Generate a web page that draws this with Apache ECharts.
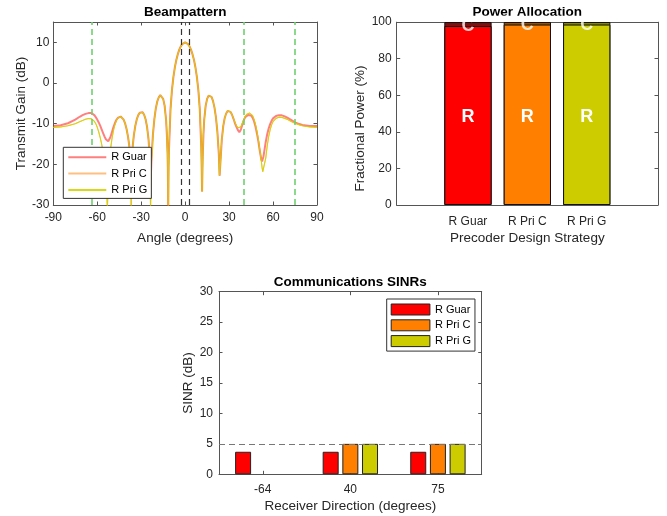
<!DOCTYPE html>
<html><head><meta charset="utf-8">
<script src="https://cdn.jsdelivr.net/npm/echarts@6/dist/echarts.min.js"></script>
<style>html,body{margin:0;padding:0;background:#fff}#c{width:667px;height:516px}</style>
</head><body><div id="c"></div>
<script>
// ---------- Beampattern ----------
const angles = [
  -90,-85,-80,-75,-72,-70,-68,-66,-65,-64,
  -63,-62,-61,-60,-59,-58,-57,-56,-55,-54,
  -53.5,-53.1,-52.5,-52,-51,-50,-49,-48,-47,-46,
  -45,-44,-43,-42,-41,-40,-39,-38,-37.5,-37,
  -36.85,-36.5,-36,-35,-34,-33,-32,-31,-30,-29,
  -28,-27,-26,-25,-24.5,-24,-23.6,-23.2,-23,-22,
  -21,-20,-19,-18,-17,-16,-15,-14,-13,-12.5,
  -12,-11.8,-11.55,-11.3,-11,-10,-9,-8,-7,-6,
  -5,-4,-3,-2,-1,0,1,2,3,4,
  5,6,7,8,9,10,11,11.3,11.55,11.8,
  12,12.5,13,14,15,16,17,18,19,20,
  21,22,23,23.5,24,25,26,27,28,29,
  30,31,32,33,34,35,36,37,38,39,
  40,41,42,43,44,45,46,47,48,49,
  50,51,52,52.5,53,53.5,54,55,56,57,
  58,59,60,62,64,65,66,68,70,72,
  75,78,80,85,90
];
const gainGuar = [
  -10.6,-10.4,-9.9,-9.0,-8.3,-7.9,-7.6,-7.4,-7.35,-7.4,
  -7.6,-7.9,-8.4,-9.0,-9.7,-10.5,-11.4,-12.3,-13.2,-13.9,
  -14.2,-14.3,-14.3,-14.1,-13.3,-12.1,-10.9,-9.9,-9.1,-8.6,
  -8.35,-8.25,-8.4,-9.0,-9.9,-11.3,-13.2,-15.8,-17.8,-20.5,
  -23,-19.5,-16.2,-12.8,-10.5,-8.9,-7.9,-7.3,-7.1,-7.2,
  -7.8,-8.9,-10.8,-13.8,-16.5,-20.5,-24,-21,-18.8,-12.7,
  -8.8,-6.2,-4.5,-3.5,-3.0,-3.1,-3.9,-5.6,-9.1,-12.5,
  -17.5,-21,-31,-20.5,-16,-6.5,-1.7,1.5,3.9,5.7,
  7.1,8.2,9.0,9.55,9.9,10.0,9.9,9.55,9.0,8.2,
  7.1,5.7,3.9,1.5,-1.7,-6.5,-16,-21,-26.7,-21.5,
  -18,-12.5,-9.1,-5.6,-3.9,-3.1,-3.0,-3.4,-4.4,-6.0,
  -8.4,-12.0,-17.5,-22.8,-20,-14,-10.6,-8.6,-7.5,-6.9,
  -6.8,-7.1,-7.8,-8.8,-9.9,-10.8,-11.6,-12.1,-11.5,-10.3,
  -9.2,-8.4,-8.0,-7.85,-7.85,-8.0,-8.5,-9.4,-10.7,-12.4,
  -14.4,-16.8,-18.8,-19.3,-19.0,-18.0,-16.8,-14.5,-12.6,-11.2,
  -10.1,-9.3,-8.7,-8.1,-7.9,-7.9,-7.95,-8.2,-8.6,-9.0,
  -9.7,-10.1,-10.3,-10.55,-10.6
];
const gainPriC = [
  -10.9,-10.8,-10.5,-10.0,-9.5,-9.2,-8.9,-8.75,-8.75,-8.8,
  -9.0,-9.4,-10.0,-10.9,-12.0,-13.4,-15.0,-17.0,-19.5,-23.5,
  -27,-31,-25,-21,-16.5,-13.8,-11.8,-10.3,-9.3,-8.7,
  -8.35,-8.25,-8.4,-9.0,-9.9,-11.3,-13.2,-16.0,-18.5,-23,
  -31,-21,-16.5,-12.8,-10.5,-8.9,-7.9,-7.3,-7.1,-7.2,
  -7.8,-8.9,-10.8,-14.0,-17,-22,-31,-22,-19.5,-12.8,
  -8.8,-6.2,-4.5,-3.5,-3.0,-3.1,-3.9,-5.6,-9.1,-12.5,
  -17.5,-21,-31,-20.5,-16,-6.5,-1.7,1.5,3.9,5.7,
  7.1,8.2,9.0,9.55,9.9,10.0,9.9,9.55,9.0,8.2,
  7.1,5.7,3.9,1.5,-1.7,-6.5,-16,-21,-26.7,-21.5,
  -18,-12.5,-9.1,-5.6,-3.9,-3.1,-3.0,-3.4,-4.4,-6.0,
  -8.4,-12.0,-17.5,-22.8,-20,-14,-10.6,-8.6,-7.5,-6.9,
  -6.8,-7.1,-7.8,-8.7,-9.7,-10.5,-11.0,-11.2,-10.8,-9.9,
  -9.0,-8.2,-7.7,-7.45,-7.4,-7.5,-8.0,-8.9,-10.2,-11.9,
  -14.0,-16.5,-19.2,-20.8,-21.8,-22.2,-21.5,-18.5,-15.5,-13.2,
  -11.5,-10.3,-9.5,-8.7,-8.4,-8.4,-8.45,-8.7,-9.0,-9.4,
  -9.9,-10.3,-10.5,-10.8,-10.9
];
const gainPriG = [
  -10.9,-10.8,-10.5,-10.0,-9.5,-9.2,-8.9,-8.75,-8.75,-8.8,
  -9.0,-9.4,-10.0,-10.9,-12.0,-13.4,-15.0,-17.0,-19.5,-23.5,
  -27,-31,-25,-21,-16.5,-13.8,-11.8,-10.3,-9.3,-8.7,
  -8.35,-8.25,-8.4,-9.0,-9.9,-11.3,-13.2,-16.0,-18.5,-23,
  -31,-21,-16.5,-12.8,-10.5,-8.9,-7.9,-7.3,-7.1,-7.2,
  -7.8,-8.9,-10.8,-14.0,-17,-22,-31,-22,-19.5,-12.8,
  -8.8,-6.2,-4.5,-3.5,-3.0,-3.1,-3.9,-5.6,-9.1,-12.5,
  -17.5,-21,-31,-20.5,-16,-6.5,-1.7,1.5,3.9,5.7,
  7.1,8.2,9.0,9.55,9.9,10.0,9.9,9.55,9.0,8.2,
  7.1,5.7,3.9,1.5,-1.7,-6.5,-16,-21,-26.7,-21.5,
  -18,-12.5,-9.1,-5.6,-3.9,-3.1,-3.0,-3.4,-4.4,-6.0,
  -8.4,-12.0,-17.5,-22.8,-20,-14,-10.6,-8.6,-7.5,-6.9,
  -6.8,-7.1,-7.8,-8.7,-9.7,-10.5,-11.0,-11.2,-10.8,-9.9,
  -9.0,-8.2,-7.7,-7.45,-7.4,-7.5,-8.0,-8.9,-10.2,-11.9,
  -14.0,-16.5,-19.2,-20.8,-21.8,-22.2,-21.5,-18.5,-15.5,-13.2,
  -11.5,-10.3,-9.5,-8.7,-8.4,-8.4,-8.45,-8.7,-9.0,-9.4,
  -9.9,-10.3,-10.5,-10.8,-10.9
];
const commDirections = [-64, 40, 75];
const radarBeamEdges = [-3, 3];

// ---------- Power allocation ----------
const strategies = ['R Guar', 'R Pri C', 'R Pri G'];
const powerRadar = [97.8, 98.6, 98.6];
const powerComm = [2.2, 1.4, 1.4];
const segmentLabels = ['R', 'C'];

// ---------- SINRs ----------
const receiverDirections = ['-64', '40', '75'];
const sinrGuar = [3.7, 3.7, 3.7];
const sinrPriC = [null, 5.0, 5.0];
const sinrPriG = [null, 5.0, 5.0];
const sinrTarget = 5;

// ---------- styling ----------
const FONT = '"Liberation Sans", Arial, Helvetica, sans-serif';
const TXT = '#262626';
const AXC = '#555555';
const mainColors = ['#ff0000', '#ff8000', '#cccc00'];
const darkColors = ['#7f1010', '#995000', '#868600'];
const lineColors = ['rgba(255,0,0,0.5)', 'rgba(255,128,0,0.5)', 'rgba(212,212,0,0.9)'];

function axisBase(extra) {
  return Object.assign({
    axisLine: { show: true, onZero: false, lineStyle: { color: AXC, width: 1 } },
    axisTick: { show: true, inside: true, length: 3.5, lineStyle: { color: AXC } },
    axisLabel: { color: TXT, fontSize: 12, fontFamily: FONT },
    splitLine: { show: false },
    nameTextStyle: { color: TXT, fontSize: 13.5, fontFamily: FONT },
    nameLocation: 'middle'
  }, extra);
}
function titleStyle() {
  return { color: '#000', fontSize: 13.5, fontWeight: 'bold', fontFamily: FONT };
}

const chart = echarts.init(document.getElementById('c'), null, { renderer: 'canvas' });

const option = {
  animation: false,
  textStyle: { fontFamily: FONT },
  grid: [
    { left: 53.3, top: 22, width: 263.7, height: 183 },
    { left: 396.7, top: 22, width: 261.3, height: 183 },
    { left: 219, top: 291.7, width: 262.7, height: 182.6 }
  ],
  xAxis: [
    axisBase({ gridIndex: 0, type: 'value', min: -90, max: 90, interval: 30, position: 'bottom',
      name: 'Angle (degrees)', nameGap: 26, axisLabel: { color: TXT, fontSize: 12, fontFamily: FONT, margin: 6.5 } }),
    axisBase({ gridIndex: 0, type: 'value', min: -90, max: 90, interval: 30, position: 'top',
      axisLabel: { show: false }, name: 'Beampattern', nameGap: 2.5, nameTextStyle: titleStyle() }),
    axisBase({ gridIndex: 1, type: 'value', min: -0.2, max: 4.2, position: 'bottom',
      axisTick: { show: true, inside: true, length: 3.5, customValues: [1, 2, 3], lineStyle: { color: AXC } },
      axisLabel: { color: TXT, fontSize: 12, fontFamily: FONT, margin: 10.5, customValues: [1, 2, 3],
        formatter: v => strategies[Math.round(v) - 1] || '' },
      name: 'Precoder Design Strategy', nameGap: 26 }),
    axisBase({ gridIndex: 1, type: 'value', min: -0.2, max: 4.2, position: 'top',
      axisTick: { show: true, inside: true, length: 3.5, customValues: [1, 2, 3], lineStyle: { color: AXC } },
      axisLabel: { show: false }, name: 'Power Allocation', nameGap: 2.5, nameTextStyle: titleStyle() }),
    axisBase({ gridIndex: 2, type: 'category', data: receiverDirections, position: 'bottom', boundaryGap: true,
      axisTick: { show: true, inside: true, length: 3.5, alignWithLabel: true, lineStyle: { color: AXC } },
      axisLabel: { color: TXT, fontSize: 12, fontFamily: FONT, margin: 9 },
      name: 'Receiver Direction (degrees)', nameGap: 25 }),
    axisBase({ gridIndex: 2, type: 'category', data: receiverDirections, position: 'top', boundaryGap: true,
      axisTick: { show: true, inside: true, length: 3.5, alignWithLabel: true, lineStyle: { color: AXC } },
      axisLabel: { show: false }, name: 'Communications SINRs', nameGap: 2.5, nameTextStyle: titleStyle() })
  ],
  yAxis: [
    axisBase({ gridIndex: 0, type: 'value', min: -30, max: 15, interval: 10, position: 'left',
      axisLabel: { color: TXT, fontSize: 12, fontFamily: FONT, margin: 4, showMaxLabel: false },
      name: 'Transmit Gain (dB)', nameGap: 25 }),
    axisBase({ gridIndex: 0, type: 'value', min: -30, max: 15, interval: 10, position: 'right',
      axisLabel: { show: false } }),
    axisBase({ gridIndex: 1, type: 'value', min: 0, max: 100, interval: 20, position: 'left',
      axisLabel: { color: TXT, fontSize: 12, fontFamily: FONT, margin: 5 },
      name: 'Fractional Power (%)', nameGap: 28,
      nameTextStyle: { color: TXT, fontSize: 13.5, fontFamily: FONT, padding: [0, 30, 0, 0] } }),
    axisBase({ gridIndex: 1, type: 'value', min: 0, max: 100, interval: 20, position: 'right',
      axisLabel: { show: false } }),
    axisBase({ gridIndex: 2, type: 'value', min: 0, max: 30, interval: 5, position: 'left',
      axisLabel: { color: TXT, fontSize: 12, fontFamily: FONT, margin: 6 },
      name: 'SINR (dB)', nameGap: 19 }),
    axisBase({ gridIndex: 2, type: 'value', min: 0, max: 30, interval: 5, position: 'right',
      axisLabel: { show: false } })
  ],
  legend: [
    {
      data: ['R Guar', 'R Pri C', 'R Pri G'],
      orient: 'vertical', left: 63.3, top: 147.3,
      padding: [4.5, 4, 3, 4], itemWidth: 38, itemHeight: 10, itemGap: 5.3,
      itemStyle: { color: 'rgba(0,0,0,0)', opacity: 0, borderWidth: 0 },
      textStyle: { color: '#000', fontSize: 11, fontFamily: FONT },
      backgroundColor: '#fff', borderColor: '#333', borderWidth: 1, borderRadius: 0,
      selectedMode: false, z: 20
    },
    {
      data: ['sinr:R Guar', 'sinr:R Pri C', 'sinr:R Pri G'],
      formatter: n => n.replace('sinr:', ''),
      orient: 'vertical', left: 386.7, top: 299, icon: 'rect',
      padding: [4.5, 4, 4, 4], itemWidth: 38.7, itemHeight: 11, itemGap: 3.8,
      itemStyle: { borderColor: '#222', borderWidth: 1 },
      textStyle: { color: '#000', fontSize: 11, fontFamily: FONT },
      backgroundColor: '#fff', borderColor: '#333', borderWidth: 1, borderRadius: 0,
      selectedMode: false, z: 20
    }
  ],
  graphic: [
    { type: 'rect', z: 100, silent: true, shape: { x: 395, y: 15.8, width: 265, height: 5.6 }, style: { fill: '#fff' } }
  ],
  series: [
    {
      name: 'R Guar', type: 'line', xAxisIndex: 0, yAxisIndex: 0, symbol: 'none', clip: true,
      data: angles.map((a, i) => [a, gainGuar[i]]),
      lineStyle: { color: lineColors[0], width: 2 }, itemStyle: { color: lineColors[0] },
      markLine: {
        silent: true, symbol: ['none', 'none'], label: { show: false }, animation: false,
        data: commDirections.map(d => ({ xAxis: d, lineStyle: { color: '#6fd06f', width: 1.6, type: [6, 4] } }))
          .concat(radarBeamEdges.map(d => ({ xAxis: d, lineStyle: { color: '#333', width: 1.2, type: [6, 4] } })))
      }
    },
    {
      name: 'R Pri C', type: 'line', xAxisIndex: 0, yAxisIndex: 0, symbol: 'none', clip: true,
      data: angles.map((a, i) => [a, gainPriC[i]]),
      lineStyle: { color: lineColors[1], width: 1 }, itemStyle: { color: lineColors[1] }
    },
    {
      name: 'R Pri G', type: 'line', xAxisIndex: 0, yAxisIndex: 0, symbol: 'none', clip: true,
      data: angles.map((a, i) => [a, gainPriG[i]]),
      lineStyle: { color: lineColors[2], width: 1.1 }, itemStyle: { color: lineColors[2] }
    },
    // total (R + C) column drawn first, in the dark "C" colour
    {
      name: segmentLabels[1], type: 'bar', xAxisIndex: 2, yAxisIndex: 2, barWidth: 47.3, barGap: '-100%',
      data: powerRadar.map((v, i) => ({ value: [i + 1, v + powerComm[i]], itemStyle: { color: darkColors[i] } })),
      itemStyle: { borderColor: '#111', borderWidth: 1 }
    },
    // radar share drawn over it
    {
      name: segmentLabels[0], type: 'bar', xAxisIndex: 2, yAxisIndex: 2, barWidth: 47.3, barGap: '-100%',
      data: powerRadar.map((v, i) => ({ value: [i + 1, v], itemStyle: { color: mainColors[i] } })),
      itemStyle: { borderColor: '#111', borderWidth: 1 },
      label: { show: true, position: 'inside', formatter: segmentLabels[0], color: '#fff', fontSize: 18, fontWeight: 'bold', fontFamily: FONT, offset: [0, 2] }
    },
    // "C" label at the middle of the communications share
    {
      name: 'C label', type: 'scatter', xAxisIndex: 2, yAxisIndex: 2, z: 5, symbolSize: 1,
      itemStyle: { color: 'rgba(0,0,0,0)' },
      data: powerRadar.map((v, i) => [i + 1, v + powerComm[i] / 2]),
      label: { show: true, position: 'inside', formatter: segmentLabels[1], color: '#fff', fontSize: 18, fontWeight: 'bold', fontFamily: FONT, offset: [0, 2] }
    },
    {
      name: 'sinr:R Guar', type: 'bar', xAxisIndex: 4, yAxisIndex: 4, barWidth: 16, barGap: '23%',
      data: sinrGuar, itemStyle: { color: mainColors[0], borderColor: '#222', borderWidth: 1 },
      markLine: {
        silent: true, symbol: ['none', 'none'], label: { show: false }, animation: false,
        data: [{ yAxis: sinrTarget }], lineStyle: { color: '#777', width: 1.2, type: [6, 4] }
      }
    },
    {
      name: 'sinr:R Pri C', type: 'bar', xAxisIndex: 4, yAxisIndex: 4, barWidth: 16, barGap: '23%',
      data: sinrPriC, itemStyle: { color: mainColors[1], borderColor: '#222', borderWidth: 1 }
    },
    {
      name: 'sinr:R Pri G', type: 'bar', xAxisIndex: 4, yAxisIndex: 4, barWidth: 16, barGap: '23%',
      data: sinrPriG, itemStyle: { color: mainColors[2], borderColor: '#222', borderWidth: 1 }
    }
  ]
};
chart.setOption(option);
</script>
</body></html>
